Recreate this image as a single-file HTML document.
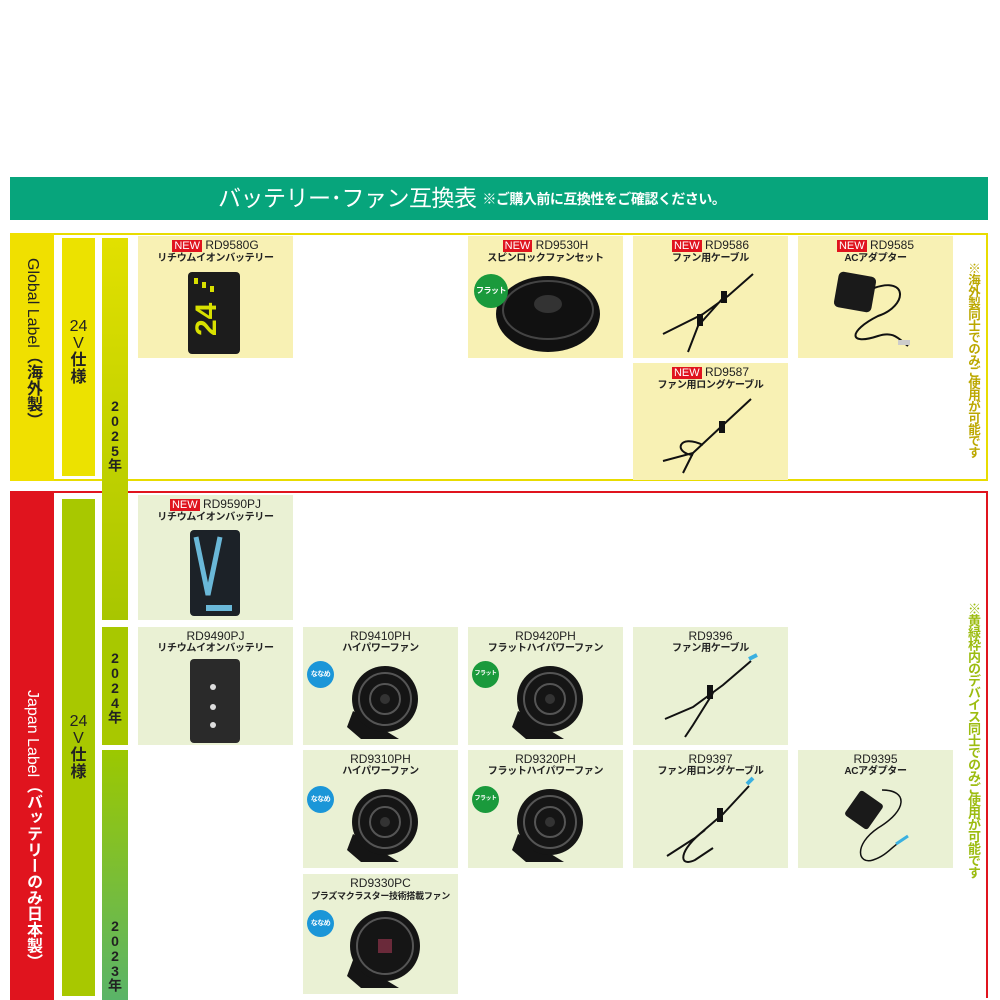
<!DOCTYPE html>
<html><head><meta charset="utf-8">
<style>
*{margin:0;padding:0;box-sizing:border-box}
body{width:1000px;height:1000px;background:#fff;position:relative;overflow:hidden;font-family:"Liberation Sans","Noto Sans CJK JP",sans-serif;color:#222}
.a{position:absolute}
.v{writing-mode:vertical-rl;text-orientation:mixed}
.u{writing-mode:vertical-rl;text-orientation:upright}
.c{position:absolute;width:155px;height:122px;text-align:center;overflow:hidden}
.cg{background:#f8f1b4}
.cj{background:#eaf1d4}
.t1{font-size:12px;line-height:13px;margin-top:3px;letter-spacing:0}
.t2{font-size:10px;line-height:12px;font-weight:bold;letter-spacing:-0.3px}
.n{background:#e0141e;color:#fff;padding:0 2px;font-size:11px}
.c svg{position:absolute;left:0;top:0}
.b{position:absolute;width:27px;height:27px;border-radius:50%;color:#fff;font-size:7px;font-weight:bold;line-height:27px;text-align:center;white-space:nowrap;letter-spacing:-0.5px}
.bb{background:#1b96d8}.bf{background:#1a9a3c;font-size:6px}
</style></head><body>

<div class="a" style="left:10px;top:177px;width:978px;height:43px;background:#07a57c"></div>
<div class="a" style="left:218px;top:183px;color:#fff;font-size:23px;line-height:30px;white-space:nowrap;letter-spacing:-0.5px">バッテリー･ファン互換表 <span style="font-size:14px;font-weight:bold;vertical-align:2px">※ご購入前に互換性をご確認ください。</span></div>

<div class="a" style="left:10px;top:233px;width:978px;height:248px;border:2px solid #e8dc00"></div>
<div class="a" style="left:10px;top:233px;width:44px;height:248px;background:#f0e000"></div>
<div class="a v" style="left:14px;top:258px;width:36px;font-size:16px;line-height:36px;color:#222"><span>Global Label</span><span style="font-weight:bold">（海外製）</span></div>
<div class="a" style="left:62px;top:238px;width:33px;height:238px;background:#ece200"></div>
<div class="a" style="left:62px;top:318px;width:33px;text-align:center;font-size:16px;line-height:17px">24<br>V<br><b>仕<br>様</b></div>

<div class="a" style="left:10px;top:491px;width:978px;height:507px;border:2px solid #e0141e;border-bottom:none"></div>
<div class="a" style="left:10px;top:491px;width:44px;height:509px;background:#e0141e"></div>
<div class="a v" style="left:14px;top:690px;width:36px;font-size:16px;line-height:36px;color:#fff"><span>Japan Label</span><span style="font-weight:bold">（バッテリーのみ日本製）</span></div>
<div class="a" style="left:62px;top:499px;width:33px;height:497px;background:#a8c800"></div>
<div class="a" style="left:62px;top:713px;width:33px;text-align:center;font-size:16px;line-height:17px">24<br>V<br><b>仕<br>様</b></div>

<div class="a" style="left:102px;top:238px;width:26px;height:382px;background:linear-gradient(#e2e000,#a8c600)"></div>
<div class="a u" style="left:102px;top:398px;width:26px;font-size:14px;line-height:26px;font-weight:bold;letter-spacing:-1px">2025年</div>
<div class="a" style="left:102px;top:627px;width:26px;height:118px;background:#a8c800"></div>
<div class="a u" style="left:102px;top:650px;width:26px;font-size:14px;line-height:26px;font-weight:bold;letter-spacing:-1px">2024年</div>
<div class="a" style="left:102px;top:750px;width:26px;height:250px;background:linear-gradient(#9cc800,#5ab468)"></div>
<div class="a u" style="left:102px;top:918px;width:26px;font-size:14px;line-height:26px;font-weight:bold;letter-spacing:-1px">2023年</div>

<div class="a u" style="left:962px;top:262px;width:22px;font-size:12.5px;line-height:22px;font-weight:bold;color:#bca800;letter-spacing:-1px">※海外製同士でのみご使用が可能です</div>
<div class="a u" style="left:962px;top:602px;width:22px;font-size:13px;line-height:22px;font-weight:bold;color:#9cbc10;letter-spacing:-1px">※黄緑枠内のデバイス同士でのみご使用が可能です</div>

<div class="c cg" style="left:138px;top:236px"><div class="t1"><span class="n">NEW</span> RD9580G</div><div class="t2">リチウムイオンバッテリー</div>
<svg width="155" height="122"><rect x="50" y="36" width="52" height="82" rx="4" fill="#1c1c1c"/><text x="68" y="110" font-size="30" font-weight="bold" fill="#d8e000" transform="rotate(-90 68 100)" font-family="Liberation Sans">24</text><rect x="56" y="42" width="4" height="6" fill="#d8e000"/><rect x="64" y="46" width="4" height="6" fill="#d8e000"/><rect x="72" y="50" width="4" height="6" fill="#d8e000"/></svg></div>

<div class="c cg" style="left:468px;top:236px"><div class="t1"><span class="n">NEW</span> RD9530H</div><div class="t2">スピンロックファンセット</div>
<svg width="155" height="122"><ellipse cx="80" cy="78" rx="52" ry="38" fill="#111"/><ellipse cx="80" cy="74" rx="45" ry="29" fill="none" stroke="#444" stroke-width="2"/><ellipse cx="80" cy="68" rx="14" ry="9" fill="#333"/></svg>
<div class="b bf" style="left:6px;top:38px;width:34px;height:34px;line-height:34px;font-size:8px">フラット</div></div>

<div class="c cg" style="left:633px;top:236px"><div class="t1"><span class="n">NEW</span> RD9586</div><div class="t2">ファン用ケーブル</div>
<svg width="155" height="122"><path d="M120 38 L95 60 L70 78 L30 98 M90 62 L65 90 L55 116" stroke="#111" stroke-width="2" fill="none"/><rect x="88" y="55" width="6" height="12" fill="#111"/><rect x="64" y="78" width="6" height="12" fill="#111"/></svg></div>

<div class="c cg" style="left:798px;top:236px"><div class="t1"><span class="n">NEW</span> RD9585</div><div class="t2">ACアダプター</div>
<svg width="155" height="122"><rect x="38" y="38" width="38" height="36" rx="5" fill="#1a1a1a" transform="rotate(10 57 56)"/><path d="M76 52 C110 40 110 70 80 80 C50 95 50 110 80 100 C95 95 100 102 110 110" stroke="#111" stroke-width="2" fill="none"/><rect x="100" y="104" width="12" height="5" fill="#ccc"/></svg></div>

<div class="c cg" style="left:633px;top:363px;height:117px"><div class="t1"><span class="n">NEW</span> RD9587</div><div class="t2">ファン用ロングケーブル</div>
<svg width="155" height="117"><path d="M118 36 L90 62 L60 90 L30 98 M60 90 L50 110 M70 82 C45 70 40 90 60 92" stroke="#111" stroke-width="2" fill="none"/><rect x="86" y="58" width="6" height="12" fill="#111"/></svg></div>

<div class="c cj" style="left:138px;top:495px;height:125px"><div class="t1"><span class="n">NEW</span> RD9590PJ</div><div class="t2">リチウムイオンバッテリー</div>
<svg width="155" height="125"><rect x="52" y="35" width="50" height="86" rx="4" fill="#1c2228"/><path d="M58 42 L70 100 L82 42" stroke="#6ab8d8" stroke-width="5" fill="none"/><rect x="68" y="110" width="26" height="6" fill="#6ab8d8"/></svg></div>

<div class="c cj" style="left:138px;top:627px;height:118px"><div class="t1">RD9490PJ</div><div class="t2">リチウムイオンバッテリー</div>
<svg width="155" height="118"><rect x="52" y="32" width="50" height="84" rx="4" fill="#2a2a2a"/><circle cx="75" cy="60" r="3" fill="#ddd"/><circle cx="75" cy="80" r="3" fill="#ddd"/><circle cx="75" cy="98" r="3" fill="#ddd"/></svg></div>

<div class="c cj" style="left:303px;top:627px;height:118px"><div class="t1">RD9410PH</div><div class="t2">ハイパワーファン</div>
<svg width="155" height="118"><path d="M50 84 L44 100 L58 112 L96 112 Z" fill="#151515"/><circle cx="82" cy="72" r="33" fill="#151515"/><circle cx="82" cy="72" r="26" fill="none" stroke="#555" stroke-width="2"/><circle cx="82" cy="72" r="15" fill="none" stroke="#555" stroke-width="2"/><circle cx="82" cy="72" r="5" fill="#333"/></svg>
<div class="b bb" style="left:4px;top:34px">ななめ</div></div>

<div class="c cj" style="left:468px;top:627px;height:118px"><div class="t1">RD9420PH</div><div class="t2">フラットハイパワーファン</div>
<svg width="155" height="118"><path d="M50 84 L44 100 L58 112 L96 112 Z" fill="#151515"/><circle cx="82" cy="72" r="33" fill="#151515"/><circle cx="82" cy="72" r="26" fill="none" stroke="#555" stroke-width="2"/><circle cx="82" cy="72" r="15" fill="none" stroke="#555" stroke-width="2"/><circle cx="82" cy="72" r="5" fill="#333"/></svg>
<div class="b bf" style="left:4px;top:34px">フラット</div></div>

<div class="c cj" style="left:633px;top:627px;height:118px"><div class="t1">RD9396</div><div class="t2">ファン用ケーブル</div>
<svg width="155" height="118"><path d="M118 34 L90 58 L60 80 L32 92 M80 66 L60 98 L52 110" stroke="#111" stroke-width="2" fill="none"/><path d="M116 32 L124 28" stroke="#3ab0e0" stroke-width="4"/><rect x="74" y="58" width="6" height="14" fill="#111"/></svg></div>

<div class="c cj" style="left:303px;top:750px;height:118px"><div class="t1">RD9310PH</div><div class="t2">ハイパワーファン</div>
<svg width="155" height="118"><path d="M50 84 L44 100 L58 112 L96 112 Z" fill="#151515"/><circle cx="82" cy="72" r="33" fill="#151515"/><circle cx="82" cy="72" r="26" fill="none" stroke="#555" stroke-width="2"/><circle cx="82" cy="72" r="15" fill="none" stroke="#555" stroke-width="2"/><circle cx="82" cy="72" r="5" fill="#333"/></svg>
<div class="b bb" style="left:4px;top:36px">ななめ</div></div>

<div class="c cj" style="left:468px;top:750px;height:118px"><div class="t1">RD9320PH</div><div class="t2">フラットハイパワーファン</div>
<svg width="155" height="118"><path d="M50 84 L44 100 L58 112 L96 112 Z" fill="#151515"/><circle cx="82" cy="72" r="33" fill="#151515"/><circle cx="82" cy="72" r="26" fill="none" stroke="#555" stroke-width="2"/><circle cx="82" cy="72" r="15" fill="none" stroke="#555" stroke-width="2"/><circle cx="82" cy="72" r="5" fill="#333"/></svg>
<div class="b bf" style="left:4px;top:36px">フラット</div></div>

<div class="c cj" style="left:633px;top:750px;height:118px"><div class="t1">RD9397</div><div class="t2">ファン用ロングケーブル</div>
<svg width="155" height="118"><path d="M116 36 L90 64 L62 88 L34 106 M72 80 C45 100 45 118 62 110 L80 98" stroke="#111" stroke-width="2" fill="none"/><path d="M114 34 L120 28" stroke="#3ab0e0" stroke-width="4"/><rect x="84" y="58" width="6" height="14" fill="#111"/></svg></div>

<div class="c cj" style="left:798px;top:750px;height:118px"><div class="t1">RD9395</div><div class="t2">ACアダプター</div>
<svg width="155" height="118"><rect x="52" y="45" width="28" height="30" rx="3" fill="#1a1a1a" transform="rotate(35 66 60)"/><path d="M84 40 C110 40 110 60 80 78 C55 95 60 115 75 110 C90 105 95 95 105 90" stroke="#111" stroke-width="1.5" fill="none"/><path d="M98 94 L110 86" stroke="#3ab0e0" stroke-width="3"/></svg></div>

<div class="c cj" style="left:303px;top:874px;height:120px"><div class="t1">RD9330PC</div><div class="t2" style="font-size:9px">プラズマクラスター技術搭載ファン</div>
<svg width="155" height="120"><path d="M50 86 L44 102 L58 114 L96 114 Z" fill="#151515"/><circle cx="82" cy="72" r="35" fill="#151515"/><circle cx="82" cy="72" r="28" fill="none" stroke="#555" stroke-width="2"/><rect x="75" y="65" width="14" height="14" fill="#6a2a3a"/></svg>
<div class="b bb" style="left:4px;top:36px">ななめ</div></div>

</body></html>
